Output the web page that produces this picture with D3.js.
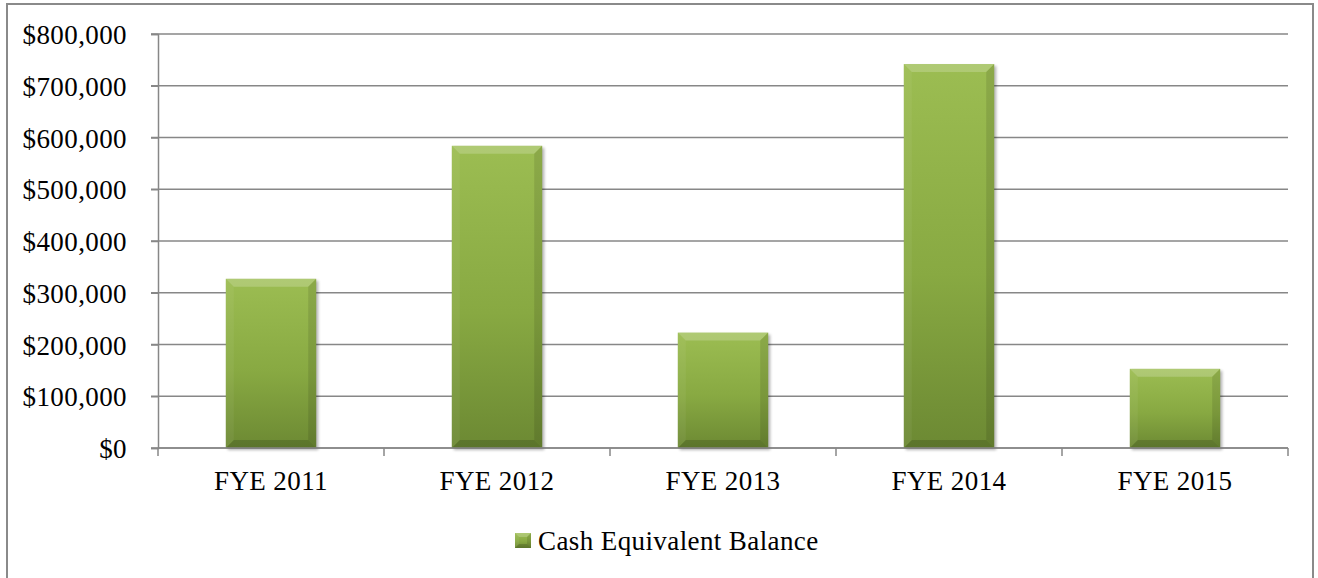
<!DOCTYPE html>
<html>
<head>
<meta charset="utf-8">
<script src="https://cdn.jsdelivr.net/npm/d3@7"></script>
<style>
  html, body { margin: 0; padding: 0; background: #fff; }
  svg { display: block; }
  text { font-family: "Liberation Serif", "Times New Roman", serif; fill: #000; letter-spacing: 0.4px; }
</style>
</head>
<body>
<svg id="chart" width="1318" height="578"></svg>
<script>
// Cash equivalent balance by fiscal year end
const categories = ["FYE 2011", "FYE 2012", "FYE 2013", "FYE 2014", "FYE 2015"];
const cashBalance = [327000, 584000, 223000, 742000, 153000];
const yTicks = [0, 100000, 200000, 300000, 400000, 500000, 600000, 700000, 800000];
const seriesName = "Cash Equivalent Balance";

const svg = d3.select("#chart");
const plot = { left: 158, right: 1288, top: 34, bottom: 448 };

const gridColor = "#878787";
const fontSize = 27;
const fontFamily = '"Liberation Serif", "Times New Roman", serif';

// outer frame
svg.append("rect")
  .attr("x", 7).attr("y", 4)
  .attr("width", 1306).attr("height", 600)
  .attr("fill", "#fff")
  .attr("stroke", "#8a8a8a").attr("stroke-width", 2);

const defs = svg.append("defs");
const grad = defs.append("linearGradient")
  .attr("id", "barFill").attr("x1", 0).attr("y1", 0).attr("x2", 0).attr("y2", 1);
grad.append("stop").attr("offset", "0%").attr("stop-color", "#9cbd52");
grad.append("stop").attr("offset", "55%").attr("stop-color", "#88a942");
grad.append("stop").attr("offset", "100%").attr("stop-color", "#6c8933");

const shadow = defs.append("filter").attr("id", "barShadow")
  .attr("x", "-20%").attr("y", "-20%").attr("width", "140%").attr("height", "140%");
shadow.append("feGaussianBlur").attr("stdDeviation", 1.6);

const x = d3.scaleBand()
  .domain(categories)
  .range([plot.left, plot.right])
  .paddingInner(0.6)
  .paddingOuter(0.3);

const y = d3.scaleLinear()
  .domain([0, 800000])
  .range([plot.bottom, plot.top]);

// horizontal gridlines
svg.append("g")
  .selectAll("line")
  .data(yTicks)
  .join("line")
  .attr("x1", plot.left - 7).attr("x2", plot.right)
  .attr("y1", d => y(d)).attr("y2", d => y(d))
  .attr("stroke", gridColor).attr("stroke-width", 1.5);

// y axis
const yAxis = d3.axisLeft(y)
  .tickValues(yTicks)
  .tickSize(7)
  .tickPadding(24)
  .tickFormat(d => "$" + d3.format(",")(d));
const gy = svg.append("g")
  .attr("transform", `translate(${plot.left},0)`)
  .call(yAxis);
gy.select(".domain").attr("stroke", gridColor).attr("stroke-width", 1.5);
gy.selectAll(".tick line").attr("stroke", gridColor).attr("stroke-width", 1.5);
gy.selectAll(".tick text")
  .style("font-family", fontFamily)
  .style("font-size", fontSize + "px")
  .attr("fill", "#000")
  .attr("dy", "0.36em");

// bars
const bevel = 8;
const bars = svg.append("g")
  .selectAll("g")
  .data(categories.map((c, i) => ({ cat: c, value: cashBalance[i] })))
  .join("g");

bars.append("rect")
  .attr("x", d => x(d.cat) + 2)
  .attr("y", d => y(d.value) + 2)
  .attr("width", x.bandwidth())
  .attr("height", d => y(0) - y(d.value))
  .attr("fill", "#000").attr("opacity", 0.3)
  .attr("filter", "url(#barShadow)");

bars.append("rect")
  .attr("x", d => x(d.cat))
  .attr("y", d => y(d.value))
  .attr("width", x.bandwidth())
  .attr("height", d => y(0) - y(d.value))
  .attr("fill", "url(#barFill)");

function bevelPaths(g, bx, by, bw, bh, b) {
  const facets = [
    { pts: [[bx, by], [bx + bw, by], [bx + bw - b, by + b], [bx + b, by + b]], fill: "#fff", op: 0.2 },
    { pts: [[bx, by], [bx + b, by + b], [bx + b, by + bh - b], [bx, by + bh]], fill: "#fff", op: 0.05 },
    { pts: [[bx + bw, by], [bx + bw, by + bh], [bx + bw - b, by + bh - b], [bx + bw - b, by + b]], fill: "#000", op: 0.1 },
    { pts: [[bx, by + bh], [bx + bw, by + bh], [bx + bw - b, by + bh - b], [bx + b, by + bh - b]], fill: "#000", op: 0.15 }
  ];
  g.selectAll("polygon.facet")
    .data(facets)
    .join("polygon")
    .attr("class", "facet")
    .attr("points", f => f.pts.map(p => p.join(",")).join(" "))
    .attr("fill", f => f.fill)
    .attr("opacity", f => f.op);
}

bars.each(function(d) {
  bevelPaths(d3.select(this), x(d.cat), y(d.value), x.bandwidth(), y(0) - y(d.value), bevel);
});

// x axis with ticks at category boundaries
const xAxisG = svg.append("g");
xAxisG.append("line")
  .attr("x1", plot.left).attr("x2", plot.right)
  .attr("y1", plot.bottom).attr("y2", plot.bottom)
  .attr("stroke", gridColor).attr("stroke-width", 1.5);
const boundaries = d3.range(categories.length + 1).map(i => plot.left + i * (plot.right - plot.left) / categories.length);
xAxisG.selectAll("line.bound")
  .data(boundaries)
  .join("line")
  .attr("class", "bound")
  .attr("x1", d => d).attr("x2", d => d)
  .attr("y1", plot.bottom).attr("y2", plot.bottom + 8)
  .attr("stroke", gridColor).attr("stroke-width", 1.5);
xAxisG.selectAll("text")
  .data(categories)
  .join("text")
  .attr("x", d => x(d) + x.bandwidth() / 2)
  .attr("y", plot.bottom + 42)
  .attr("text-anchor", "middle")
  .style("font-family", fontFamily)
  .style("font-size", fontSize + "px")
  .text(d => d);

// legend
const legend = svg.append("g").attr("transform", "translate(515,533)");
legend.append("rect")
  .attr("x", 0).attr("y", 0).attr("width", 16).attr("height", 15)
  .attr("fill", "url(#barFill)");
bevelPaths(legend, 0, 0, 16, 15, 4);
legend.append("text")
  .attr("x", 23).attr("y", 17)
  .style("font-family", fontFamily)
  .style("font-size", fontSize + "px")
  .text(seriesName);
</script>
</body>
</html>
